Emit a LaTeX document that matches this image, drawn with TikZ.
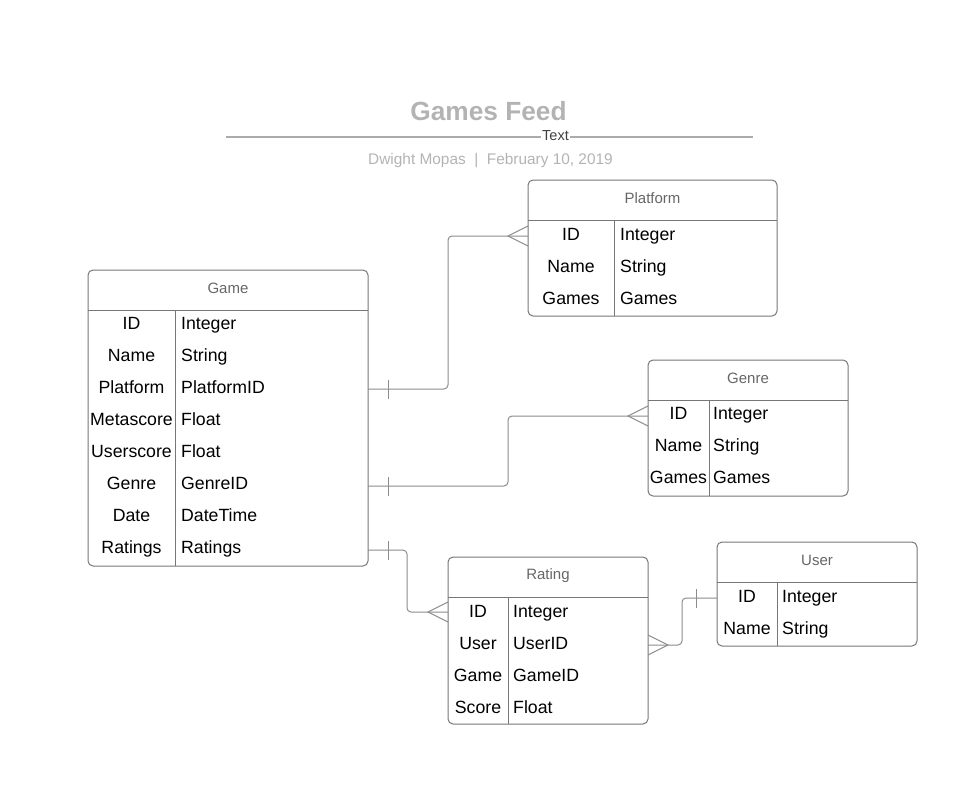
\documentclass[tikz,border=0pt]{standalone}
\usepackage{fontspec}
\setmainfont{Liberation Sans}
\definecolor{border}{HTML}{777777}
\definecolor{conncol}{HTML}{8C8C8C}
\definecolor{hdr}{HTML}{666666}
\definecolor{ttl}{HTML}{B3B3B3}
\definecolor{rule}{HTML}{ABABAB}
\tikzset{
  tbl/.style={draw=border, line width=1pt, rounded corners=5pt, anchor=north west, inner sep=0pt, outer sep=0pt},
  sep/.style={draw=border, line width=1pt},
  hdrtext/.style={text=hdr, font=\fontsize{15}{18}\selectfont},
  key/.style={font=\fontsize{17.7}{20}\selectfont, anchor=base, inner sep=0pt},
  val/.style={font=\fontsize{17.7}{20}\selectfont, anchor=base west, inner sep=0pt},
  conn/.style={draw=conncol, line width=1pt, rounded corners=4pt},
  mark1/.style={draw=conncol, line width=1pt},
}
\begin{document}
\begin{tikzpicture}[x=1pt,y=-1pt]
\useasboundingbox (0,0) rectangle (977,806);
% title
\node[font=\bfseries\fontsize{26.3}{30}\selectfont, text=ttl] (title) at (488.5,111) {Games Feed};
\coordinate (rl) at (226,137);
\coordinate (rr) at (753,137);
\draw[rule, line width=2pt] (rl) -- (rr);
\node[fill=white, inner sep=1pt, text=black!75, font=\fontsize{14.5}{16}\selectfont] (rtext) at (555.5,136) {Text};
\node[text=ttl, font=\fontsize{15.4}{18}\selectfont] (sub) at (490.5,161) {Dwight Mopas \ | \ February 10, 2019};

% Platform
\node[tbl, minimum width=249pt, minimum height=136pt] (platform) at (528,180) {};
\draw[sep] (528,220) -- (777,220);
\draw[sep] (614,220) -- (614,316);
\node[hdrtext] (platformT) at (652.5,198) {Platform};
\node[key] (pk1) at (571,240.3) {ID};      \node[val] (pv1) at (620,240.3) {Integer};
\node[key] (pk2) at (571,272.3) {Name};    \node[val] (pv2) at (620,272.3) {String};
\node[key] (pk3) at (571,304.3) {Games};   \node[val] (pv3) at (620,304.3) {Games};

% Game
\node[tbl, minimum width=280pt, minimum height=296pt] (game) at (88,270) {};
\draw[sep] (88,310) -- (368,310);
\draw[sep] (175,310) -- (175,566);
\node[hdrtext] (gameT) at (228,288) {Game};
\node[key] (gk1) at (131.5,329.3) {ID};        \node[val] (gv1) at (181,329.3) {Integer};
\node[key] (gk2) at (131.5,361.3) {Name};      \node[val] (gv2) at (181,361.3) {String};
\node[key] (gk3) at (131.5,393.3) {Platform};  \node[val] (gv3) at (181,393.3) {PlatformID};
\node[key] (gk4) at (131.5,425.3) {Metascore}; \node[val] (gv4) at (181,425.3) {Float};
\node[key] (gk5) at (131.5,457.3) {Userscore}; \node[val] (gv5) at (181,457.3) {Float};
\node[key] (gk6) at (131.5,489.3) {Genre};     \node[val] (gv6) at (181,489.3) {GenreID};
\node[key] (gk7) at (131.5,521.3) {Date};      \node[val] (gv7) at (181,521.3) {DateTime};
\node[key] (gk8) at (131.5,553.3) {Ratings};   \node[val] (gv8) at (181,553.3) {Ratings};

% Genre
\node[tbl, minimum width=200pt, minimum height=136pt] (genre) at (648,360) {};
\draw[sep] (648,400) -- (848,400);
\draw[sep] (709,400) -- (709,496);
\node[hdrtext] (genreT) at (748,378) {Genre};
\node[key] (nk1) at (678.5,419.3) {ID};     \node[val] (nv1) at (713,419.3) {Integer};
\node[key] (nk2) at (678.5,451.3) {Name};   \node[val] (nv2) at (713,451.3) {String};
\node[key] (nk3) at (678.5,483.3) {Games};  \node[val] (nv3) at (713,483.3) {Games};

% Rating
\node[tbl, minimum width=200pt, minimum height=167pt] (rating) at (448,557) {};
\draw[sep] (448,597) -- (648,597);
\draw[sep] (508,597) -- (508,724);
\node[hdrtext] (ratingT) at (548,575.5) {Rating};
\node[key] (rk1) at (478,617.3) {ID};     \node[val] (rv1) at (513,617.3) {Integer};
\node[key] (rk2) at (478,649.3) {User};   \node[val] (rv2) at (513,649.3) {UserID};
\node[key] (rk3) at (478,681.3) {Game};   \node[val] (rv3) at (513,681.3) {GameID};
\node[key] (rk4) at (478,713.3) {Score};  \node[val] (rv4) at (513,713.3) {Float};

% User
\node[tbl, minimum width=200pt, minimum height=104pt] (user) at (717,542) {};
\draw[sep] (717,582) -- (917,582);
\draw[sep] (777,582) -- (777,646);
\node[hdrtext] (userT) at (817,560) {User};
\node[key] (uk1) at (747,602.3) {ID};     \node[val] (uv1) at (782,602.3) {Integer};
\node[key] (uk2) at (747,634.3) {Name};   \node[val] (uv2) at (782,634.3) {String};

% connector anchors
\coordinate (y1a) at (0,389);  \coordinate (y1b) at (0,236);
\coordinate (y2a) at (0,486);  \coordinate (y2b) at (0,416);
\coordinate (y3a) at (0,550);  \coordinate (y3b) at (0,612);
\coordinate (y4a) at (0,645);  \coordinate (y4b) at (0,598);

% Game -> Platform
\draw[conn] (game.east |- y1a) -- (448,389) -- (448,236) -- (platform.west |- y1b);
\draw[mark1] (388,380) -- (388,399);
\draw[mark1] (528,226) -- (508,236) -- (528,246);

% Game -> Genre
\draw[conn] (game.east |- y2a) -- (508,486) -- (508,416) -- (genre.west |- y2b);
\draw[mark1] (388,477) -- (388,496);
\draw[mark1] (648,406) -- (628,416) -- (648,426);

% Game -> Rating
\draw[conn] (game.east |- y3a) -- (407,550) -- (407,612) -- (rating.west |- y3b);
\draw[mark1] (388,541) -- (388,560);
\draw[mark1] (448,602) -- (428,612) -- (448,622);

% Rating -> User
\draw[conn] (rating.east |- y4a) -- (682,645) -- (682,598) -- (user.west |- y4b);
\draw[mark1] (696,589) -- (696,608);
\draw[mark1] (648,635) -- (668,645) -- (648,655);
\end{tikzpicture}
\end{document}
